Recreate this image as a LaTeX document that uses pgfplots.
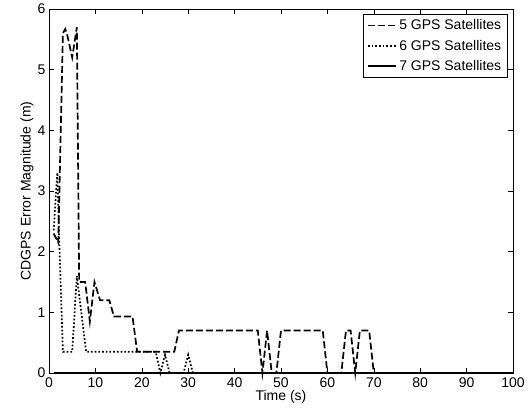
\documentclass[border=0pt]{standalone}
\usepackage{fontspec}
\setmainfont{Liberation Sans}
\usepackage{pgfplots}
\pgfplotsset{compat=1.18}
\begin{document}
\begin{tikzpicture}[font=\fontsize{14bp}{16bp}\selectfont]
\useasboundingbox (-49bp,-41bp) rectangle (479bp,373bp);
\begin{axis}[
  at={(0,0)}, anchor=south west,
  width=464bp, height=364bp, scale only axis,
  xmin=0, xmax=100, ymin=0, ymax=6,
  xtick={0,10,...,100}, ytick={0,1,...,6},
  tick align=inside, tick pos=both, major tick length=5bp,
  axis line style={line width=0.8bp},
  every tick/.style={line width=0.6bp, black},
  /pgf/number format/assume math mode=true,
  clip=false,
  xticklabel style={yshift=-1.5bp},
  xlabel={Time (s)}, ylabel={CDGPS Error Magnitude (m)},
  xlabel style={at={(axis description cs:0.5,-0.066)}, anchor=center},
  ylabel style={at={(axis description cs:-0.0474,0.5)}, anchor=center},
  legend style={at={(axis description cs:1,1)}, anchor=north east, xshift=-5bp, yshift=-5bp,
    draw=black, line width=0.6bp, inner xsep=4bp, inner ysep=3bp, row sep=3.5bp,
    nodes={inner sep=2.5bp, anchor=west}},
  legend cell align=left,
  legend image code/.code={\draw[#1] (0bp,0bp) -- (28bp,0bp);},
]
\addplot[black, line width=1.7bp, dash pattern=on 7bp off 3bp] coordinates {
(1,2.3) (2,2.15) (3,5.6) (3.5,5.67) (4,5.55) (5,5.2) (6,5.7) (6.5,1.5) (7.8,1.5) (8.8,0.85) (9.8,1.5) (11,1.2) (13,1.2) (14,0.93) (18,0.93) (19,0.35) (27,0.35) (28,0.7) (45,0.7) (46,0) (47,0.7) (48,0) (49,0) (50,0.7) (59,0.7) (60,0) (63,0) (64,0.7) (65,0.7) (66,0) (67,0.7) (69,0.7) (70,0) (100,0)
};
\addplot[black, line width=1.7bp, dash pattern=on 1.7bp off 2bp] coordinates {
(1,2.35) (1.8,3.3) (2.2,2.2) (3,0.35) (5,0.35) (6,1.6) (8,0.35) (23,0.35) (24,0) (25,0.3) (26,0) (29,0) (30,0.3) (31,0) (100,0)
};
\addplot[black, line width=1.7bp] coordinates {
(1,0) (10,0) (20,0) (30,0) (40,0) (50,0) (60,0) (70,0) (80,0) (90,0) (100,0)
};
\legend{5 GPS Satellites, 6 GPS Satellites, 7 GPS Satellites}
\end{axis}
\end{tikzpicture}
\end{document}
